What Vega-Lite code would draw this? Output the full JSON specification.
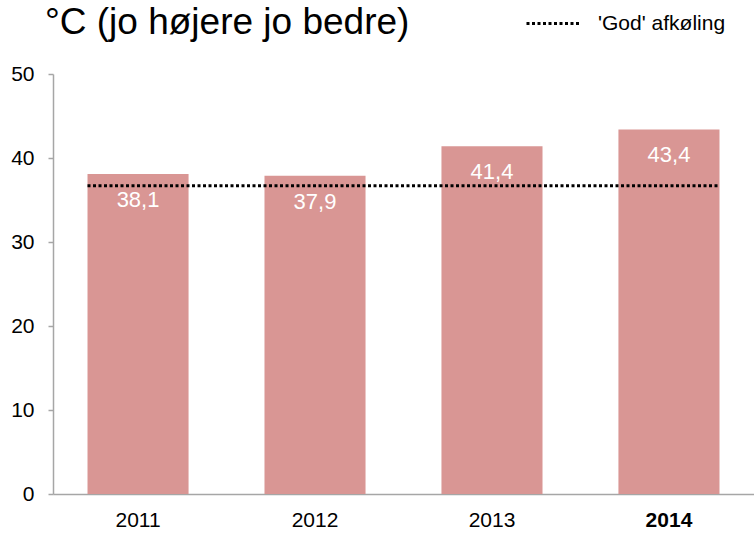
{
  "$schema": "https://vega.github.io/schema/vega-lite/v6.json",
  "autosize": {"type": "none"},
  "width": 701,
  "height": 420,
  "padding": {"left": 53, "top": 74, "right": 0, "bottom": 39},
  "background": "white",
  "title": {
    "text": "°C (jo højere jo bedre)",
    "anchor": "start",
    "frame": "group",
    "orient": "top",
    "baseline": "alphabetic",
    "offset": 0,
    "dx": -8,
    "dy": 76,
    "font": "Liberation Sans",
    "fontSize": 37,
    "fontWeight": "normal",
    "color": "black"
  },
  "datasets": {
    "bars": [
      {"year": "2011", "temp": 38.1},
      {"year": "2012", "temp": 37.9},
      {"year": "2013", "temp": 41.4},
      {"year": "2014", "temp": 43.4}
    ],
    "ref": [
      {"start": "2011", "end": "2014", "god": 36.7, "series": "'God' afkøling"}
    ]
  },
  "layer": [
    {
      "data": {"name": "bars"},
      "mark": {"type": "bar", "color": "#d99694"},
      "encoding": {
        "x": {
          "field": "year",
          "type": "nominal",
          "axis": {
            "labelFontWeight": {"condition": {"test": "datum.value == '2014'", "value": "bold"}, "value": "normal"}
          }
        },
        "y": {
          "field": "temp",
          "type": "quantitative",
          "scale": {"domain": [0, 50]},
          "axis": {"values": [0, 10, 20, 30, 40, 50]}
        }
      }
    },
    {
      "data": {"name": "bars"},
      "mark": {"type": "text", "color": "white", "font": "Liberation Sans", "fontSize": 22, "baseline": "middle", "dy": 26},
      "encoding": {
        "x": {"field": "year", "type": "nominal"},
        "y": {"field": "temp", "type": "quantitative"},
        "text": {"field": "temp", "type": "quantitative", "format": ".1f"}
      }
    },
    {
      "data": {"name": "ref"},
      "mark": {"type": "rule", "color": "black", "strokeWidth": 3},
      "encoding": {
        "x": {"field": "start", "type": "nominal", "bandPosition": 0},
        "x2": {"field": "end", "bandPosition": 1},
        "y": {"field": "god", "type": "quantitative"},
        "strokeDash": {
          "field": "series",
          "type": "nominal",
          "scale": {"range": [[3, 2.5]]},
          "legend": {
            "title": null,
            "orient": "none",
            "legendX": 472,
            "legendY": -79,
            "symbolType": "stroke",
            "symbolSize": 2916,
            "symbolStrokeWidth": 3,
            "symbolStrokeColor": "black",
            "labelFont": "Liberation Sans",
            "labelFontSize": 21,
            "labelColor": "black",
            "labelOffset": 16
          }
        }
      }
    }
  ],
  "resolve": {"scale": {"x": "shared", "y": "shared"}},
  "encoding": {},
  "config": {
    "locale": {"number": {"decimal": ",", "thousands": ".", "grouping": [3], "currency": ["", " kr."]}},
    "view": {"stroke": null},
    "scale": {"bandPaddingInner": 0.429, "bandPaddingOuter": 0.195},
    "axisX": {
      "title": null,
      "labelAngle": 0,
      "ticks": false,
      "labelPadding": 15,
      "labelFont": "Liberation Sans",
      "labelFontSize": 21,
      "labelColor": "black",
      "domainColor": "#a6a6a6",
      "domainWidth": 1.5,
      "grid": false
    },
    "axisY": {
      "title": null,
      "labelFont": "Liberation Sans",
      "labelFontSize": 21,
      "labelColor": "black",
      "labelPadding": 14,
      "tickSize": 5,
      "tickColor": "#a6a6a6",
      "tickWidth": 1.5,
      "domainColor": "#a6a6a6",
      "domainWidth": 1.5,
      "grid": false
    }
  }
}
